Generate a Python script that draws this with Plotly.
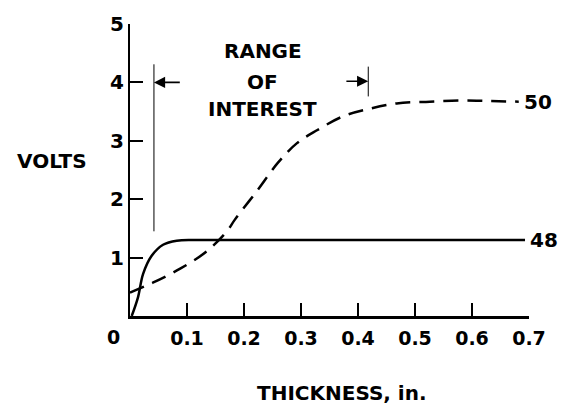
import plotly.graph_objects as go

# Data
x48 = [0.003, 0.014, 0.023, 0.038, 0.058, 0.082, 0.12, 0.2, 0.3, 0.4, 0.5, 0.6, 0.693]
y48 = [0.0, 0.32, 0.72, 1.03, 1.22, 1.29, 1.30, 1.30, 1.30, 1.30, 1.30, 1.30, 1.30]

x50 = [0.0, 0.04, 0.088, 0.135, 0.17, 0.184, 0.225, 0.26, 0.293, 0.328, 0.374, 0.421,
       0.468, 0.526, 0.584, 0.632, 0.682]
y50 = [0.40, 0.57, 0.81, 1.11, 1.45, 1.65, 2.17, 2.63, 2.96, 3.18, 3.42, 3.55,
       3.64, 3.67, 3.69, 3.68, 3.67]

x_ticks = [0.1, 0.2, 0.3, 0.4, 0.5, 0.6, 0.7]
x_tick_labels = ["0.1", "0.2", "0.3", "0.4", "0.5", "0.6", "0.7"]
y_ticks = [1, 2, 3, 4, 5]
y_tick_labels = ["1", "2", "3", "4", "5"]

range_lo = 0.042
range_hi = 0.418

FONT = "DejaVu Sans"

fig = go.Figure()
fig.add_trace(go.Scatter(x=x48, y=y48, mode="lines", line=dict(color="black", width=2.5, shape="spline"),
                         hoverinfo="skip", showlegend=False))
fig.add_trace(go.Scatter(x=x50, y=y50, mode="lines",
                         line=dict(color="black", width=2.5, dash="15px,9px", shape="spline"),
                         hoverinfo="skip", showlegend=False))

# Range of interest markers
fig.add_shape(type="line", x0=range_lo, x1=range_lo, y0=1.45, y1=4.31,
              line=dict(color="black", width=1))
fig.add_shape(type="line", x0=range_hi, x1=range_hi, y0=3.76, y1=4.27,
              line=dict(color="black", width=1))

fig.add_annotation(x=range_lo, y=4.0, ax=0.09, ay=4.0, axref="x", ayref="y",
                   xref="x", yref="y", text="", showarrow=True, arrowhead=2,
                   arrowsize=1.4, arrowwidth=1.6, arrowcolor="black")
fig.add_annotation(x=range_hi, y=4.02, ax=0.377, ay=4.02, axref="x", ayref="y",
                   xref="x", yref="y", text="", showarrow=True, arrowhead=2,
                   arrowsize=1.4, arrowwidth=1.6, arrowcolor="black")

tf = dict(family=FONT, size=20, color="black", weight="bold")
for txt, yy in [("RANGE", 4.53), ("OF", 4.0), ("INTEREST", 3.54)]:
    fig.add_annotation(x=0.233, y=yy, xref="x", yref="y", text=txt, showarrow=False,
                       font=tf, xanchor="center", yanchor="middle")

lf = dict(family=FONT, size=20, color="black", weight="bold")
fig.add_annotation(x=0.70, y=1.30, xref="x", yref="y", text="48", showarrow=False,
                   font=lf, xanchor="left", xshift=-1)
fig.add_annotation(x=0.69, y=3.67, xref="x", yref="y", text="50", showarrow=False,
                   font=lf, xanchor="left", xshift=-1)

fig.add_annotation(x=-0.195, y=(316 - 158) / 297, xref="paper", yref="paper", text="VOLTS",
                   showarrow=False, font=tf, xanchor="center", yanchor="middle")
fig.add_annotation(x=(342 - 130) / 399, y=(316 - 394) / 297, xref="paper", yref="paper",
                   text="THICKNESS, in.", showarrow=False, font=tf,
                   xanchor="center", yanchor="middle")
fig.add_annotation(x=0, y=0, xref="x", yref="y", text="0", showarrow=False,
                   font=dict(family=FONT, size=19, color="black", weight="bold"),
                   xshift=-17, yshift=-21)

fig.update_xaxes(range=[0, 0.7], tickvals=x_ticks, ticktext=x_tick_labels,
                 ticks="inside", ticklen=13, tickwidth=1.5, tickcolor="black",
                 showline=True, linecolor="black", linewidth=3,
                 showgrid=False, zeroline=False, ticklabelstandoff=3,
                 tickfont=dict(family=FONT, size=19, color="black", weight="bold"))
fig.update_yaxes(range=[0, 5], tickvals=y_ticks, ticktext=y_tick_labels,
                 ticks="inside", ticklen=13, tickwidth=1.5, tickcolor="black",
                 showline=True, linecolor="black", linewidth=2,
                 showgrid=False, zeroline=False,
                 tickfont=dict(family=FONT, size=20, color="black", weight="bold"))

fig.update_layout(width=568, height=407, margin=dict(l=130, r=39, t=19, b=91),
                  plot_bgcolor="white", paper_bgcolor="white")

fig.write_html("out.html", config={"displayModeBar": False},
               post_script="document.body.style.margin='0px';document.body.style.overflow='hidden';")
